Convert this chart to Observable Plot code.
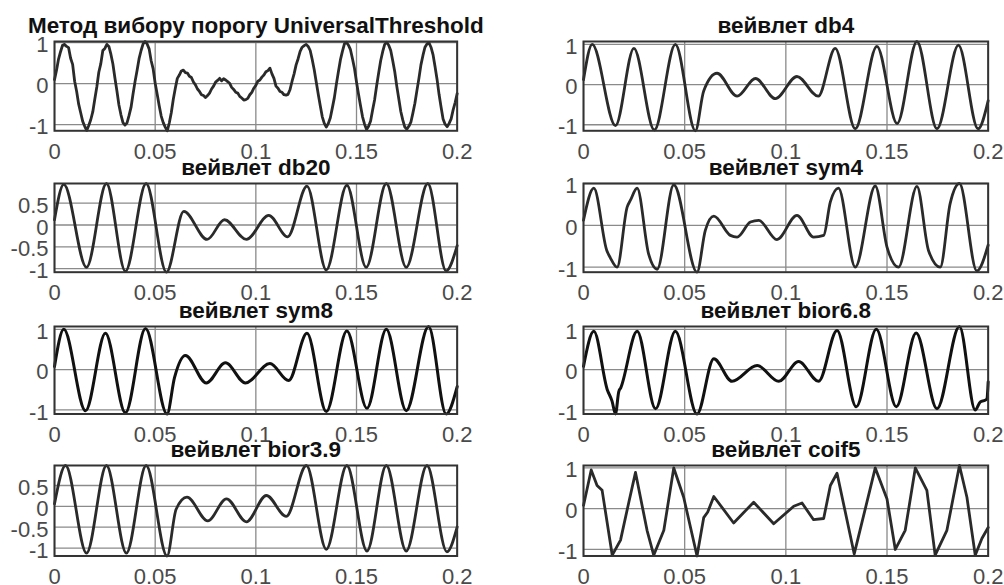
<!DOCTYPE html>
<html><head><meta charset="utf-8">
<script src="https://cdn.jsdelivr.net/npm/d3@7"></script>
<script src="https://cdn.jsdelivr.net/npm/@observablehq/plot@0.6"></script>
<style>
body{margin:0;background:#fff;}
#chart{position:relative;width:1004px;height:585px;overflow:hidden;font-family:"Liberation Sans",Arial,sans-serif;}
#chart svg{position:absolute;overflow:visible;background:transparent;}
</style></head><body><div id="chart"></div>
<script>
// ---- data ----
const xTicks = [0, 0.05, 0.1, 0.15, 0.2];
const yTicksUnit = [-1, 0, 1];
const yTicksHalf = [-1, -0.5, 0, 0.5];
const titles = ["Метод вибору порогу UniversalThreshold", "вейвлет db4", "вейвлет db20", "вейвлет sym4",
                "вейвлет sym8", "вейвлет bior6.8", "вейвлет bior3.9", "вейвлет coif5"];

// noisy signal, sampled every 1 ms
const noisyStep = 0.001;
const noisy = [0.10,0.33,0.60,0.78,0.94,0.96,0.91,0.88,0.62,0.47,0.06,-0.19,-0.50,-0.71,-0.92,-1.04,-1.14,-1.02,-0.88,-0.69,
-0.38,-0.08,0.28,0.49,0.81,0.86,0.96,0.91,0.72,0.48,0.14,-0.18,-0.52,-0.76,-0.95,-1.01,-0.96,-0.78,-0.58,-0.25,
0.05,0.32,0.61,0.81,0.97,1.03,0.97,0.85,0.56,0.36,0.01,-0.26,-0.54,-0.79,-0.95,-1.06,-1.15,-0.96,-0.71,-0.38,
-0.11,0.13,0.21,0.31,0.33,0.27,0.26,0.18,0.15,0.04,-0.03,-0.13,-0.19,-0.27,-0.29,-0.34,-0.29,-0.23,-0.13,-0.06,
0.04,0.08,0.13,0.07,0.12,0.09,0.05,0.01,-0.09,-0.14,-0.21,-0.23,-0.31,-0.35,-0.40,-0.39,-0.36,-0.27,-0.21,-0.11,
-0.04,0.06,0.09,0.16,0.21,0.29,0.32,0.38,0.24,0.13,-0.06,-0.11,-0.19,-0.21,-0.27,-0.28,-0.26,-0.14,0.06,0.24,
0.46,0.61,0.79,0.89,0.93,0.96,0.91,0.81,0.59,0.34,0.04,-0.26,-0.54,-0.81,-0.97,-1.06,-0.97,-0.83,-0.59,-0.34,
-0.01,0.29,0.58,0.79,0.97,1.01,0.94,0.83,0.61,0.37,0.04,-0.26,-0.54,-0.81,-0.99,-1.12,-1.04,-0.91,-0.64,-0.39,
-0.05,0.26,0.56,0.78,0.96,1.01,0.94,0.81,0.56,0.29,-0.06,-0.37,-0.68,-0.89,-1.06,-1.11,-1.04,-0.94,-0.72,-0.48,
-0.17,0.13,0.46,0.69,0.89,0.97,1.0,0.89,0.71,0.42,0.11,-0.26,-0.57,-0.86,-0.99,-1.05,-0.97,-0.86,-0.64,-0.46,-0.24];

// denoised signals: [time, value] at extrema and visible kinks
const db4 = [[0,0.12],[0.0043,1.0],[0.0158,-1.02],[0.0249,0.9],[0.035,-1.13],[0.0454,1.0],[0.0553,-1.15],[0.0594,-0.16],
[0.066,0.28],[0.0759,-0.29],[0.085,0.15],[0.0948,-0.35],[0.1055,0.2],[0.116,-0.29],[0.1244,0.9],[0.1343,-1.1],
[0.145,0.95],[0.155,-0.97],[0.1648,1.07],[0.1747,-1.1],[0.1853,0.98],[0.195,-1.1],[0.2,-0.4]];
const db20 = [[0,0.12],[0.0046,0.93],[0.0159,-0.97],[0.0258,0.95],[0.0352,-1.06],[0.0455,0.95],[0.0556,-1.08],
[0.0642,0.31],[0.0758,-0.33],[0.0844,0.12],[0.0953,-0.33],[0.1064,0.22],[0.1158,-0.27],[0.1254,0.89],[0.135,-1.03],
[0.1452,0.91],[0.1548,-0.97],[0.1648,0.95],[0.1747,-0.97],[0.1854,0.95],[0.1945,-1.05],[0.2,-0.47]];
const sym4 = [[0,0.12],[0.0051,0.89],[0.0115,-0.6],[0.0132,-0.77],[0.0166,-1.0],[0.0216,0.44],[0.0232,0.6],[0.0265,0.89],
[0.0322,-0.69],[0.0364,-1.05],[0.0446,0.97],[0.0561,-1.12],[0.0602,-0.12],[0.0644,0.22],[0.0726,-0.24],[0.0759,-0.28],
[0.0825,0.08],[0.0866,0.12],[0.0956,-0.34],[0.1055,0.24],[0.1137,-0.28],[0.1187,-0.24],[0.122,0.56],[0.126,0.89],
[0.1343,-1.0],[0.1442,0.94],[0.15,-0.52],[0.1557,-1.0],[0.1648,0.93],[0.1705,-0.6],[0.1763,-1.0],[0.1812,0.52],
[0.1858,1.0],[0.1944,-1.09],[0.2,-0.47]];
const sym8 = [[0,0.08],[0.0046,1.0],[0.0154,-1.02],[0.0253,0.9],[0.0352,-1.07],[0.0452,1.02],[0.0559,-1.1],[0.0596,-0.2],
[0.065,0.35],[0.0754,-0.33],[0.0849,0.17],[0.0948,-0.33],[0.107,0.15],[0.1163,-0.27],[0.1254,0.9],[0.135,-1.04],
[0.1452,0.96],[0.1552,-0.96],[0.1648,1.0],[0.1747,-1.02],[0.1858,1.07],[0.1945,-1.1],[0.2,-0.42]];
const bior68 = [[0,0.08],[0.0051,0.95],[0.0117,-0.49],[0.0141,-0.78],[0.0158,-1.1],[0.0174,-0.55],[0.0184,-0.45],
[0.0265,0.95],[0.0356,-0.97],[0.0454,0.95],[0.0561,-1.1],[0.0644,0.27],[0.0734,-0.29],[0.0858,0.1],[0.0965,-0.29],
[0.1063,0.2],[0.1162,-0.29],[0.1253,0.97],[0.1348,-0.92],[0.1447,1.0],[0.1546,-0.92],[0.1644,0.91],[0.1747,-0.97],
[0.1858,1.07],[0.1936,-1.0],[0.1961,-0.8],[0.1985,-0.76],[0.1994,-0.72],[0.2,-0.3]];
const bior39 = [[0,0.06],[0.0055,0.98],[0.0159,-1.12],[0.0258,0.98],[0.0357,-1.12],[0.0455,0.98],[0.0559,-1.19],
[0.0604,-0.07],[0.0658,0.22],[0.0761,-0.35],[0.0854,0.18],[0.0953,-0.37],[0.1052,0.26],[0.1151,-0.24],[0.1251,0.98],
[0.135,-1.03],[0.1452,0.98],[0.1552,-1.07],[0.1648,0.98],[0.1747,-1.07],[0.185,0.98],[0.1949,-1.09],[0.2,-0.49]];
const coif5 = [[0,0.08],[0.0038,0.95],[0.0067,0.57],[0.0092,0.45],[0.0142,-1.14],[0.0183,-0.77],[0.0224,0.16],
[0.0257,0.89],[0.0314,-0.53],[0.0347,-1.14],[0.0397,-0.53],[0.0446,1.0],[0.0495,0.28],[0.0561,-1.16],[0.0594,-0.22],
[0.0614,-0.08],[0.0644,0.3],[0.0742,-0.35],[0.0841,0.16],[0.094,-0.37],[0.1039,0.06],[0.108,0.14],[0.1137,-0.27],
[0.1187,-0.24],[0.122,0.57],[0.1253,0.87],[0.1338,-1.11],[0.1442,1.0],[0.15,0.24],[0.1541,-1.0],[0.159,-0.53],
[0.164,1.0],[0.1697,0.45],[0.1738,-1.14],[0.1796,-0.53],[0.1858,1.06],[0.1895,0.28],[0.1936,-1.14],[0.1969,-0.73],
[0.2,-0.46]];

// ---- layout ----
const cols = [[54.3, 457], [583.3, 988]];
const rows = [[40.7, 130], [183, 271.7], [325.5, 413], [465, 555.5]];
const noisyPairs = noisy.map((v, i) => [i * noisyStep, v]);
const panels = [
  {data: noisyPairs, title: titles[0], yt: yTicksUnit, curve: "linear", row: 0, col: 0},
  {data: db4, title: titles[1], yt: yTicksUnit, curve: "monotone-x", row: 0, col: 1},
  {data: db20, title: titles[2], yt: yTicksHalf, curve: "monotone-x", row: 1, col: 0},
  {data: sym4, title: titles[3], yt: yTicksUnit, curve: "monotone-x", row: 1, col: 1},
  {data: sym8, title: titles[4], yt: yTicksUnit, curve: "monotone-x", row: 2, col: 0, dark: true},
  {data: bior68, title: titles[5], yt: yTicksUnit, curve: "monotone-x", row: 2, col: 1, dark: true},
  {data: bior39, title: titles[6], yt: yTicksHalf, curve: "monotone-x", row: 3, col: 0},
  {data: coif5, title: titles[7], yt: yTicksUnit, curve: "linear", row: 3, col: 1}
];

const chart = document.getElementById("chart");
const mL = 60, mR = 14, mT = 44, mB = 36;
const font = '"Liberation Sans", Arial, sans-serif';
for (const p of panels) {
  const [x0, x1] = cols[p.col];
  const [y0, y1] = rows[p.row];
  const svg = Plot.plot({
    width: (x1 - x0) + mL + mR,
    height: (y1 - y0) + mT + mB,
    marginLeft: mL, marginRight: mR, marginTop: mT, marginBottom: mB,
    style: {fontFamily: font, fontSize: "22px", color: "#4a4a4a", background: "transparent", overflow: "visible"},
    x: {domain: [0, 0.2]},
    y: {domain: d3.extent(p.data, d => d[1])},
    marks: [
      Plot.gridX(xTicks, {stroke: "#8a8a8a", strokeOpacity: 1, strokeWidth: 1.3}),
      Plot.gridY(p.yt, {stroke: "#8a8a8a", strokeOpacity: 1, strokeWidth: 1.3}),
      Plot.line(p.data, {x: d => d[0], y: d => d[1], curve: p.curve,
        stroke: p.dark ? "#111" : "#2a2a2a", strokeWidth: p.dark ? 3 : 2.8, strokeLinejoin: "round"}),
      Plot.frame({stroke: "#333", strokeWidth: 2}),
      Plot.axisX(xTicks, {tickFormat: d => String(d), tickSize: 0, tickPadding: 12.5, label: null}),
      Plot.axisY(p.yt, {tickFormat: d => String(d), tickSize: 0, tickPadding: 6, dy: 2.5, label: null}),
      Plot.text([p.title], {frameAnchor: "top", lineAnchor: "bottom", dy: -8, fontWeight: "bold",
        fontSize: 22.5, fill: "#111", fontFamily: font})
    ]
  });
  svg.style.left = (x0 - mL) + "px";
  svg.style.top = (y0 - mT) + "px";
  chart.appendChild(svg);
}
</script></body></html>
